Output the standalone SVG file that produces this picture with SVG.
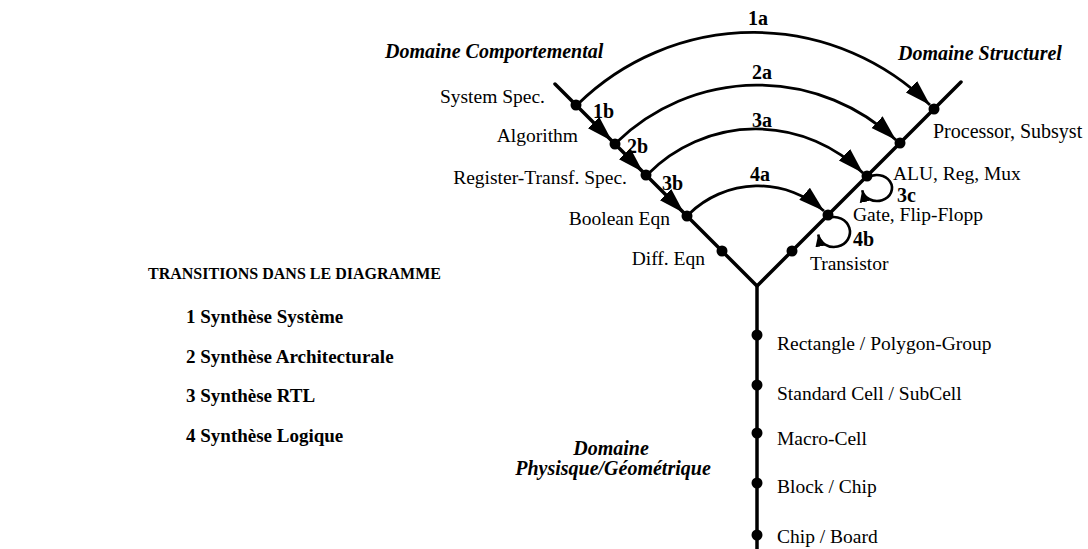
<svg xmlns="http://www.w3.org/2000/svg" width="1088" height="549" viewBox="0 0 1088 549">
  <style>
    text { font-family: "Liberation Serif", "Times New Roman", serif; fill: #000; }
    .lbl { font-size: 19.5px; }
    .num { font-size: 20px; font-weight: bold; }
    .dom { font-size: 20px; font-weight: bold; font-style: italic; }
    .ttl { font-size: 16px; font-weight: bold; }
    .itm { font-size: 19px; font-weight: bold; }
    .axis { stroke: #000; stroke-width: 3.5; fill: none; stroke-linecap: round; stroke-linejoin: miter; }
    .arc { stroke: #000; stroke-width: 2.8; fill: none; marker-end: url(#ah); }
    .seg { stroke: none; fill: none; marker-end: url(#ah); }
    .loop { stroke: #000; stroke-width: 2.6; fill: none; marker-end: url(#ahs); }
    .dot { fill: #000; }
  </style>
  <defs>
    <marker id="ah" viewBox="0 0 28 20" markerWidth="28" markerHeight="20" refX="26" refY="10" orient="auto" markerUnits="userSpaceOnUse">
      <path d="M0,2 L26,10 L0,18 z" fill="#000"/>
    </marker>
    <marker id="ahs" viewBox="0 0 14 12" markerWidth="14" markerHeight="12" refX="12" refY="6" orient="auto" markerUnits="userSpaceOnUse">
      <path d="M0,1 L12,6 L0,11 z" fill="#000"/>
    </marker>
  </defs>
  <rect width="1088" height="549" fill="#fff"/>

  <!-- Legend -->
  <g id="legend">
    <text class="ttl" x="148" y="279">TRANSITIONS DANS LE DIAGRAMME</text>
    <text class="itm" x="186" y="323">1 Synthèse Système</text>
    <text class="itm" x="186" y="363">2 Synthèse Architecturale</text>
    <text class="itm" x="186" y="402">3 Synthèse RTL</text>
    <text class="itm" x="186" y="442">4 Synthèse Logique</text>
  </g>

  <!-- Domain titles -->
  <g id="domains">
    <text class="dom" x="385" y="58">Domaine Comportemental</text>
    <text class="dom" x="898" y="60">Domaine Structurel</text>
    <text class="dom" x="611" y="455" text-anchor="middle">Domaine</text>
    <text class="dom" x="613" y="475" text-anchor="middle">Physisque/Géométrique</text>
  </g>

  <!-- Connectors -->
  <g id="connectors">
    <path class="axis" d="M555,84 L757,286 L961,82"/>
    <path class="axis" d="M757,286 L757,549"/>
    <path class="arc" d="M578,104 A251 251 0 0 1 930,105"/>
    <path class="arc" d="M617,142 A202 202 0 0 1 896,140"/>
    <path class="arc" d="M648,174 A152 152 0 0 1 863,173"/>
    <path class="arc" d="M689,214 A99 99 0 0 1 824,211"/>
    <path class="seg" d="M595,124 L612,141"/>
    <path class="seg" d="M626,155 L643,172"/>
    <path class="seg" d="M667,196 L684,213"/>
    <path class="loop" d="M867.4,178 A15 13 0 1 1 862.2,190.3"/>
    <path class="loop" d="M828.5,217.9 A16 15 0 1 1 818.2,234.6"/>
    <text class="num" x="758" y="25" text-anchor="middle">1a</text>
    <text class="num" x="762" y="79" text-anchor="middle">2a</text>
    <text class="num" x="762" y="127" text-anchor="middle">3a</text>
    <text class="num" x="760" y="181" text-anchor="middle">4a</text>
    <text class="num" x="593" y="118">1b</text>
    <text class="num" x="627" y="153">2b</text>
    <text class="num" x="662" y="190">3b</text>
    <text class="num" x="897" y="202">3c</text>
    <text class="num" x="853" y="246">4b</text>
  </g>

  <!-- Behavioural nodes -->
  <g id="n-system-spec"><circle class="dot" cx="576" cy="105" r="5.5"/><text class="lbl" x="545" y="103" text-anchor="end">System Spec.</text></g>
  <g id="n-algorithm"><circle class="dot" cx="615" cy="144" r="5.5"/><text class="lbl" x="578" y="142" text-anchor="end">Algorithm</text></g>
  <g id="n-register-transf"><circle class="dot" cx="646" cy="175" r="5.5"/><text class="lbl" x="627" y="184" text-anchor="end">Register-Transf. Spec.</text></g>
  <g id="n-boolean"><circle class="dot" cx="687" cy="216" r="5.5"/><text class="lbl" x="670" y="225" text-anchor="end">Boolean Eqn</text></g>
  <g id="n-diff"><circle class="dot" cx="722" cy="251" r="5.5"/><text class="lbl" x="705" y="265" text-anchor="end">Diff. Eqn</text></g>

  <!-- Structural nodes -->
  <g id="n-processor"><circle class="dot" cx="934" cy="109" r="5.5"/><text class="lbl" x="933" y="138" style="font-size:20px">Processor, Subsyst</text></g>
  <g id="n-level2"><circle class="dot" cx="900" cy="143" r="5.5"/></g>
  <g id="n-alu"><circle class="dot" cx="867" cy="176" r="5.5"/><text class="lbl" x="893" y="180">ALU, Reg, Mux</text></g>
  <g id="n-gate"><circle class="dot" cx="828" cy="215" r="5.5"/><text class="lbl" x="853" y="221">Gate, Flip-Flopp</text></g>
  <g id="n-transistor"><circle class="dot" cx="792" cy="251" r="5.5"/><text class="lbl" x="810" y="270">Transistor</text></g>

  <!-- Physical nodes -->
  <g id="n-rectangle"><circle class="dot" cx="757" cy="335" r="5.5"/><text class="lbl" x="777" y="350">Rectangle / Polygon-Group</text></g>
  <g id="n-stdcell"><circle class="dot" cx="757" cy="385" r="5.5"/><text class="lbl" x="777" y="400">Standard Cell / SubCell</text></g>
  <g id="n-macro"><circle class="dot" cx="757" cy="433" r="5.5"/><text class="lbl" x="777" y="445">Macro-Cell</text></g>
  <g id="n-block"><circle class="dot" cx="757" cy="483" r="5.5"/><text class="lbl" x="777" y="493">Block / Chip</text></g>
  <g id="n-chip"><circle class="dot" cx="757" cy="535" r="5.5"/><text class="lbl" x="777" y="543">Chip / Board</text></g>
</svg>
